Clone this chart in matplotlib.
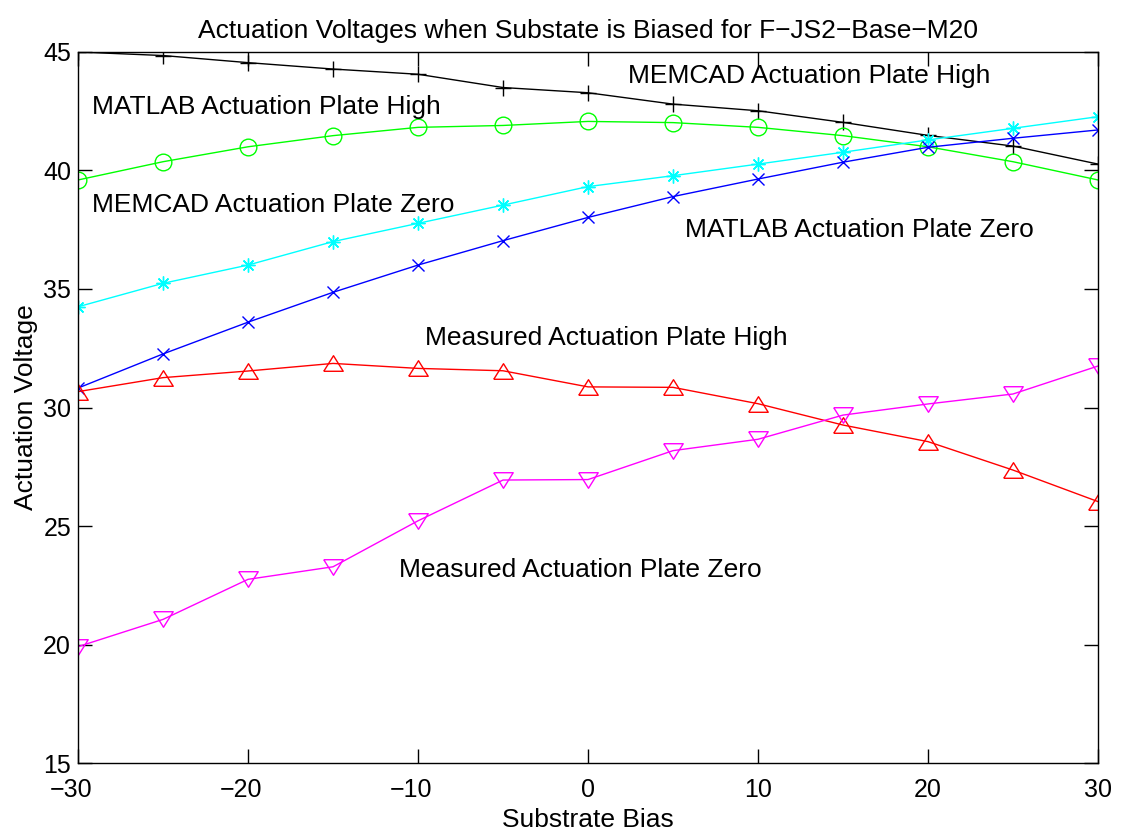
import matplotlib
matplotlib.use("Agg")
import matplotlib.pyplot as plt
from matplotlib.transforms import ScaledTranslation

plt.rcParams['font.family'] = ['Liberation Sans', 'DejaVu Sans']

# Substrate bias values (x axis)
bias = [-30, -25, -20, -15, -10, -5, 0, 5, 10, 15, 20, 25, 30]

# Actuation voltages
memcad_high = [45.0, 44.85, 44.55, 44.28, 44.06, 43.5, 43.28, 42.8, 42.52, 42.03, 41.48, 41.03, 40.27]
matlab_high = [39.6, 40.37, 41.0, 41.47, 41.82, 41.9, 42.07, 42.02, 41.82, 41.47, 41.0, 40.37, 39.6]
memcad_zero = [34.25, 35.24, 36.01, 37.0, 37.77, 38.54, 39.32, 39.78, 40.27, 40.77, 41.29, 41.78, 42.27]
matlab_zero = [30.82, 32.26, 33.6, 34.86, 36.01, 37.04, 38.02, 38.9, 39.64, 40.35, 40.98, 41.36, 41.71]
measured_high = [30.67, 31.26, 31.54, 31.86, 31.65, 31.55, 30.87, 30.85, 30.16, 29.26, 28.56, 27.36, 26.03]
measured_zero = [19.91, 21.06, 22.75, 23.28, 25.22, 26.94, 26.96, 28.18, 28.66, 29.68, 30.15, 30.57, 31.75]

# matlab-ish triangles (a bit flatter than matplotlib's)
tri_up = [(-1, -0.8), (1, -0.8), (0, 0.8), (-1, -0.8)]
tri_down = [(-1, 0.8), (1, 0.8), (0, -0.8), (-1, 0.8)]
asterisk = (8, 2, 0)

fig = plt.figure(figsize=(11.21, 8.33), dpi=100)
ax = fig.add_axes([0.0696, 0.084, 0.9099, 0.8536])

ax.plot(bias, memcad_high, color='k', marker='+', ms=12, mew=1, lw=1)
ax.plot(bias, matlab_high, color='#00ff00', marker='o', ms=12, mfc='none', mew=1, lw=1)
ax.plot(bias, memcad_zero, color='#00ffff', marker=asterisk, ms=10, mew=1, lw=1)
ax.plot(bias, matlab_zero, color='#0000ff', marker='x', ms=8.5, mew=1, lw=1)
ax.plot(bias, measured_high, color='#ff0000', marker=tri_up, ms=14, mfc='none', mew=1, lw=1)
ax.plot(bias, measured_zero, color='#ff00ff', marker=tri_down, ms=14, mfc='none', mew=1, lw=1)

lab = dict(fontsize=19, ha='left', va='center')
ax.text(2.35, 44.0, 'MEMCAD Actuation Plate High', **lab)
ax.text(-29.2, 42.68, 'MATLAB Actuation Plate High', **lab)
ax.text(-29.2, 38.54, 'MEMCAD Actuation Plate Zero', **lab)
ax.text(5.7, 37.49, 'MATLAB Actuation Plate Zero', **lab)
ax.text(-9.6, 32.93, 'Measured Actuation Plate High', **lab)
ax.text(-11.1, 23.14, 'Measured Actuation Plate Zero', **lab)

ax.set_xlim(-30, 30)
ax.set_ylim(15, 45)
ax.set_xticks([-30, -20, -10, 0, 10, 20, 30])
ax.set_yticks([15, 20, 25, 30, 35, 40, 45])
ax.tick_params(direction='in', top=True, right=True, length=10, width=1, labelsize=18)
ax.tick_params(axis='x', pad=11)
ax.tick_params(axis='y', pad=5)
for s in ax.spines.values():
    s.set_linewidth(1)

# matlab centres the digits, the minus hangs out to the left
shift = ScaledTranslation(-7 / 100, 0, fig.dpi_scale_trans)
for lbl, v in zip(ax.get_xticklabels(), ax.get_xticks()):
    if v < 0:
        lbl.set_transform(lbl.get_transform() + shift)

ax.set_xlabel('Substrate Bias', fontsize=19, labelpad=4)
ax.set_ylabel('Actuation Voltage', fontsize=19, labelpad=4)
ax.set_title('Actuation Voltages when Substate is Biased for F\u2212JS2\u2212Base\u2212M20', fontsize=19, pad=10)

fig.savefig('out.png', dpi=100)
